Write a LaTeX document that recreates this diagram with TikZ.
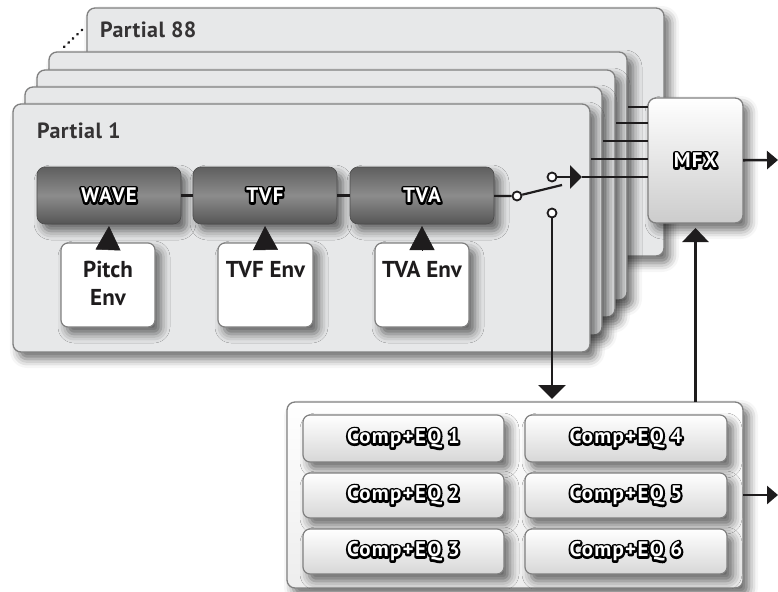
\documentclass[tikz,border=0pt]{standalone}
\usepackage{fontspec}
\setmainfont{PT Sans}
\newfontfamily\outfont{PT Sans}[LetterSpace=6]
\newfontfamily\titlefont{PT Sans}[LetterSpace=2]
\newcommand\outl[1]{\rlap{\color{black}\special{pdf:literal direct 2 Tr 4.0 w 1 j}#1\special{pdf:literal direct 0 Tr}}#1}
\usetikzlibrary{shadows.blur,arrows.meta,fit,calc}
\definecolor{panelfill}{RGB}{231,232,233}
\definecolor{edge}{RGB}{128,128,128}
\definecolor{moddark}{RGB}{95,95,95}
\definecolor{modmid}{RGB}{140,140,140}
\definecolor{ink}{RGB}{30,28,29}
\definecolor{btnlow}{RGB}{215,215,215}
\tikzset{
  shad/.style={blur shadow={shadow xshift=6pt, shadow yshift=-7pt, shadow blur radius=9pt, shadow opacity=58}},
  panel/.style={draw=edge, line width=1.3pt, fill=panelfill, rounded corners=8pt, inner sep=0pt, outer sep=0pt, shad},
  module/.style={draw=moddark!80!black, line width=0.6pt, rounded corners=8pt, top color=moddark, bottom color=moddark!90!black, middle color=modmid, inner sep=0pt, outer sep=0pt, shad},
  outtext/.style={text=white, font=\outfont\bfseries\fontsize{21}{24}\selectfont, inner sep=0pt},
  envbox/.style={draw=edge, line width=1.2pt, fill=white, rounded corners=7pt, inner sep=0pt, outer sep=0pt, shad},
  envtext/.style={font=\bfseries\fontsize{23}{28}\selectfont, align=center, inner sep=0pt, text=ink},
  title/.style={font=\titlefont\bfseries\fontsize{22}{25}\selectfont, inner sep=0pt, text=ink!90!white},
  button/.style={draw=edge, line width=1.2pt, rounded corners=7pt, top color=white, bottom color=btnlow, inner sep=0pt, outer sep=0pt, shad},
  bigbox/.style={draw=edge, line width=1.3pt, top color=white, bottom color=white!93!black, rounded corners=8pt, inner sep=0pt, outer sep=0pt, shad},
  mfxbox/.style={draw=edge, line width=1.3pt, top color=white, bottom color=white!80!black, rounded corners=8pt, inner sep=0pt, outer sep=0pt, shad},
  wire/.style={draw=ink, line width=2.6pt},
  thin wire/.style={draw=ink, line width=2.2pt},
  contact/.style={circle, draw=ink, line width=1.8pt, fill=white, minimum size=9pt, inner sep=0pt},
}
\begin{document}
\begin{tikzpicture}[x=1pt,y=-1pt]
\useasboundingbox (0,0) rectangle (778,591);
% back panel
\node[panel, fit={(87,8) (664,256)}] (p88) {};
\node[title, anchor=base west] (t88) at (100,38) {Partial 88};
\coordinate (d1) at (64,47);
\coordinate (d2) at (84,28);
\draw[ink, line width=2.6pt, line cap=round, dash pattern=on 0.6pt off 5.5pt] (d1) -- (d2);
% MFX
\node[mfxbox, fit={(648,98) (743,223)}] (mfx) {};
\node[outtext] (mfxt) at (mfx) {\outl{MFX}};
% other panels
\node[panel, fit={(49,52) (627,300)}] (p4) {};
\node[panel, fit={(37,70) (615,317)}] (p3) {};
\node[panel, fit={(25,87) (602,335)}] (p2) {};
\node[panel, fit={(13,104) (590,352)}] (p1) {};
\node[title, anchor=base west] (t1) at (37,138) {Partial 1};
% outputs of the stacked partials
\coordinate (o4) at (628,107);
\coordinate (o3) at (616,123);
\coordinate (o2) at (603,141);
\coordinate (o1) at (591,159);
\foreach \o in {o4,o3,o2,o1} \draw[wire] (\o) -- (\o -| mfx.west);
% modules
\node[module, fit={(37,167) (181,224)}] (wave) {};
\node[module, fit={(193,167) (337,224)}] (tvf) {};
\node[module, fit={(350,167) (494,224)}] (tva) {};
\node[outtext] (wavet) at (wave) {\outl{WAVE}};
\node[outtext] (tvft) at (tvf) {\outl{TVF}};
\node[outtext] (tvat) at (tva) {\outl{TVA}};
\draw[thin wire] (wave) -- (tvf);
\draw[thin wire] (tvf) -- (tva);
% envelopes
\node[envbox, fit={(61,243) (155,327)}] (penv) {};
\node[envbox, fit={(218,243) (313,327)}] (fenv) {};
\node[envbox, fit={(375,243) (469,327)}] (aenv) {};
\node[envtext, anchor=north] (penvt) at ([yshift=-18pt]penv.north) {Pitch\\Env};
\node[envtext, anchor=north] (fenvt) at ([yshift=-18pt]fenv.north) {TVF Env};
\node[envtext, anchor=north] (aenvt) at ([yshift=-18pt]aenv.north) {TVA Env};
\foreach \e/\m in {penv/wave,fenv/tvf,aenv/tva}
  \draw[ink, line width=0.5pt, -{Triangle[length=24pt,width=25pt]}] ([yshift=-7pt]\e.north) -- ([yshift=-2pt]\m.south);
% switch
\node[contact] (s0) at (517,196) {};
\node[contact] (s1) at (552,177) {};
\node[contact] (s2) at (552,213) {};
\coordinate (lev) at (562,185);
\coordinate (sw) at (582,177);
\draw[thin wire] (tva) -- (s0);
\draw[thin wire] (s0) -- (lev);
\draw[wire, -{Triangle[length=12pt,width=23pt]}] (s1) -- (sw);
\draw[wire] (sw) -- (sw -| mfx.west);
% output of MFX
\coordinate (out1) at (778,160);
\draw[wire, -{Triangle[length=11pt,width=18pt]}] (mfx) -- (out1);
% comp+eq block
\node[bigbox, fit={(287,402) (743,588)}] (comp) {};
\node[button, fit={(303,415) (504,462)}] (c1) {};
\node[button, fit={(303,473) (504,518)}] (c2) {};
\node[button, fit={(303,529) (504,574)}] (c3) {};
\node[button, fit={(525,415) (727,462)}] (c4) {};
\node[button, fit={(525,473) (727,518)}] (c5) {};
\node[button, fit={(525,529) (727,574)}] (c6) {};
\foreach \c in {1,...,6} \node[outtext] (c\c t) at (c\c) {\outl{Comp+EQ \c}};
\draw[wire, -{Triangle[length=14pt,width=27pt]}] (s2) -- ([yshift=3pt]s2 |- comp.north);
\draw[wire, -{Triangle[length=14pt,width=26pt]}] (mfx.south |- comp.north) -- ([yshift=-5pt]mfx.south);
\coordinate (out2) at (778,495);
\draw[wire, -{Triangle[length=11pt,width=18pt]}] (comp.east |- out2) -- (out2);
\end{tikzpicture}
\end{document}
